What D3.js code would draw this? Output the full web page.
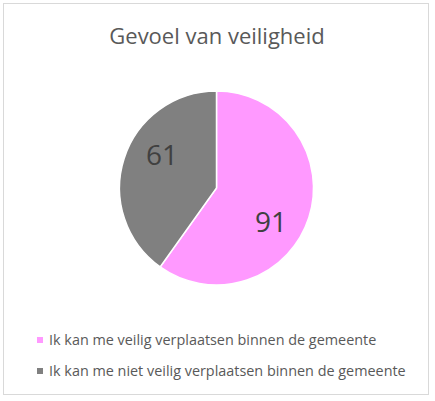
<!DOCTYPE html>
<html>
<head>
<meta charset="utf-8">
<script src="https://cdn.jsdelivr.net/npm/d3@7"></script>
<style>
  body { margin: 0; background: #fff; }
  text { font-family: "Open Sans", Lato, sans-serif; }
</style>
</head>
<body>
<div id="chart"></div>
<script>
const title = "Gevoel van veiligheid";
const categories = [
  "Ik kan me veilig verplaatsen binnen de gemeente",
  "Ik kan me niet veilig verplaatsen binnen de gemeente"
];
const values = [91, 61];
const colors = ["#ff99ff", "#808080"];

const width = 435;
const height = 401;

const svg = d3
  .select("#chart")
  .append("svg")
  .attr("width", width)
  .attr("height", height);

// chart border
svg
  .append("rect")
  .attr("x", 3.5)
  .attr("y", 3.5)
  .attr("width", 425)
  .attr("height", 391)
  .attr("fill", "#fff")
  .attr("stroke", "#d9d9d9");

svg
  .append("text")
  .attr("x", 217)
  .attr("y", 44)
  .attr("text-anchor", "middle")
  .style("font-size", "22px")
  .style("fill", "#595959")
  .text(title);

const radius = 97;
const cx = 216.5;
const cy = 188;

const pie = d3.pie().sort(null).value(d => d);
const arcs = pie(values);

const arc = d3.arc().innerRadius(0).outerRadius(radius);
// labels sit a little clockwise of the slice middle
const labelShift = 0.24;
const labelArc = d3
  .arc()
  .innerRadius(64)
  .outerRadius(64)
  .startAngle(d => d.startAngle + labelShift)
  .endAngle(d => d.endAngle + labelShift);

const g = svg.append("g").attr("transform", `translate(${cx},${cy})`);

g.selectAll("path")
  .data(arcs)
  .enter()
  .append("path")
  .attr("d", arc)
  .attr("fill", (d, i) => colors[i])
  .attr("stroke", "#fff")
  .attr("stroke-width", 1.5);

g.selectAll(".label")
  .data(arcs)
  .enter()
  .append("text")
  .attr("class", "label")
  .attr("transform", d => `translate(${labelArc.centroid(d)})`)
  .attr("text-anchor", "middle")
  .attr("dy", "0.36em")
  .style("font-size", "28px")
  .style("fill", "#404040")
  .text(d => d.data);

// legend
const legend = svg
  .selectAll(".legend")
  .data(categories)
  .enter()
  .append("g")
  .attr("class", "legend")
  .attr("transform", (d, i) => `translate(37,${340 + i * 31})`);

legend
  .append("rect")
  .attr("x", 0)
  .attr("y", -3)
  .attr("width", 6)
  .attr("height", 6)
  .attr("fill", (d, i) => colors[i]);

legend
  .append("text")
  .attr("x", 12)
  .attr("y", 0)
  .attr("dy", "0.36em")
  .style("font-size", "14.4px")
  .style("fill", "#595959")
  .text(d => d);
</script>
</body>
</html>
